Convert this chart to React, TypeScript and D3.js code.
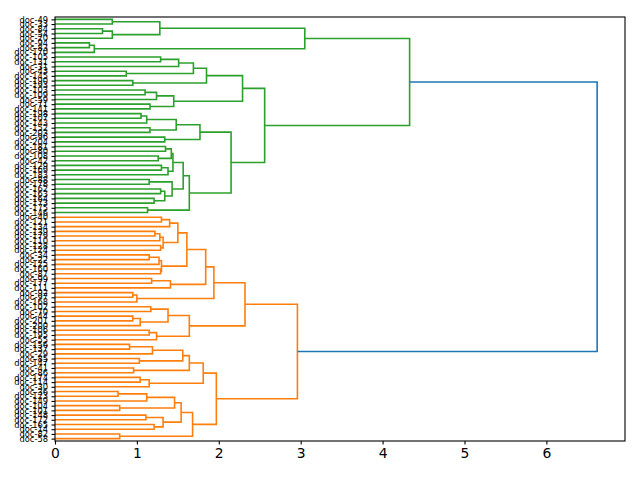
import * as d3 from "d3";
import { useEffect, useRef } from "react";

// leaf names, top to bottom as they appear on the chart
const greenLeaves = [
  "doc-49", "doc-33", "doc-84", "doc-54", "doc-20", "doc-94", "doc-83", "doc-170", "doc-105", "doc-131",
  "doc-31", "doc-43", "doc-145", "doc-190", "doc-193", "doc-103", "doc-109", "doc-59", "doc-71", "doc-141",
  "doc-198", "doc-107", "doc-143", "doc-152", "doc-203", "doc-96", "doc-204", "doc-181", "doc-80", "doc-108",
  "doc-42", "doc-129", "doc-169", "doc-183", "doc-88", "doc-178", "doc-162", "doc-163", "doc-164", "doc-173",
  "doc-175", "doc-146",
];
const orangeLeaves = [
  "doc-40", "doc-121", "doc-134", "doc-139", "doc-179", "doc-110", "doc-128", "doc-124", "doc-34", "doc-22",
  "doc-125", "doc-160", "doc-87", "doc-99", "doc-177", "doc-111", "doc-92", "doc-97", "doc-168", "doc-102",
  "doc-70", "doc-44", "doc-201", "doc-200", "doc-106", "doc-195", "doc-55", "doc-156", "doc-137", "doc-29",
  "doc-85", "doc-147", "doc-41", "doc-86", "doc-174", "doc-114", "doc-30", "doc-36", "doc-123", "doc-149",
  "doc-104", "doc-101", "doc-148", "doc-172", "doc-165", "doc-14", "doc-82", "doc-58",
];
const leafLabels = [...greenLeaves, ...orangeLeaves];
const heightTicks = [0, 1, 2, 3, 4, 5, 6];

// merges: [distance, left, right]; a number is a leaf index in leafLabels
type Node = number | [number, Node, Node];

const greenTop: Node = [3.05, [1.28, [0.70, 0, 1], [0.70, [0.58, 2, 3], 4]], [0.48, [0.42, 5, 6], 7]];
const greenG: Node = [1.85, [1.69, [1.51, [1.29, 8, 9], 10], [0.87, 11, 12]], [0.95, 13, 14]];
const greenH: Node = [1.45, [1.24, [1.10, 15, 16], 17], [1.16, 18, 19]];
const greenJK: Node = [1.77, [1.48, [1.12, [1.05, 20, 21], 22], [1.16, 23, 24]], [1.34, 25, 26]];
const greenA1: Node = [1.565,
  [1.44, [1.42, [1.35, 27, 28], [1.26, 29, 30]], [1.38, [1.30, 31, 32], 33]],
  [1.43, [1.15, 34, 35], [1.34, [1.29, 36, 37], [1.21, 38, 39]]]];
const greenA2: Node = [1.13, 40, 41];
const greenMid: Node = [2.56, [2.29, greenG, greenH], [2.15, greenJK, [1.64, greenA1, greenA2]]];
const greenTree: Node = [4.33, greenTop, greenMid];

const orangeT: Node = [1.61,
  [1.50, [1.40, [1.30, 42, 43], 44], [1.32, [1.28, [1.22, 45, 46], 47], [1.29, 48, 49]]],
  [1.30, [1.27, [1.15, 50, 51], 52], [1.29, 53, 54]]];
const orangeX: Node = [1.94, [1.84, orangeT, [1.41, [1.18, 55, 56], 57]], [1.00, [0.95, 58, 59], 60]];
const orangeY: Node = [1.64,
  [1.38, [1.17, 61, 62], [1.04, [0.95, 63, 64], 65]],
  [1.24, [1.15, 66, 67], 68]];
const orangeLA: Node = [1.81,
  [1.64, [1.56, [1.19, [0.91, 69, 70], 71], [1.03, 72, 73]], [0.96, 74, 75]],
  [1.15, [1.04, 76, 77], 78]];
const orangeLB: Node = [1.68,
  [1.54,
    [1.46, [1.12, [0.77, 79, 80], 81], [0.79, 82, 83]],
    [1.32, [1.11, 84, 85], [1.21, 86, 87]]],
  [0.79, 88, 89]];
const orangeTree: Node = [2.96, [2.32, orangeX, orangeY], [1.97, orangeLA, orangeLB]];

const rootHeight = 6.62;

const colors = { green: "#2ca02c", orange: "#ff7f0e", above: "#1f77b4" };

export default function App() {
  const ref = useRef<SVGSVGElement>(null);

  useEffect(() => {
    const svg = d3.select(ref.current);
    svg.selectAll("*").remove();

    const left = 55, right = 625, top = 17, bottom = 441;

    const x = d3.scaleLinear().domain([0, 6.96]).range([left, right]);
    const y = d3.scaleLinear().domain([0, leafLabels.length]).range([top, bottom]);

    const links: { a: any; b: any; h: number; color: string }[] = [];
    function walk(node: Node, color: string): { y: number; h: number } {
      if (typeof node === "number") return { y: y(node + 0.5), h: 0 };
      const [h, na, nb] = node;
      const a = walk(na, color);
      const b = walk(nb, color);
      links.push({ a, b, h, color });
      return { y: (a.y + b.y) / 2, h };
    }
    const g = walk(greenTree, colors.green);
    const o = walk(orangeTree, colors.orange);
    links.push({ a: g, b: o, h: rootHeight, color: colors.above });

    svg.append("g")
      .selectAll("path")
      .data(links)
      .enter()
      .append("path")
      .attr("d", d => `M${x(d.a.h)},${d.a.y}H${x(d.h)}V${d.b.y}H${x(d.b.h)}`)
      .attr("fill", "none")
      .attr("stroke", d => d.color)
      .attr("stroke-width", 1.6);

    // frame
    svg.append("rect")
      .attr("x", left).attr("y", top)
      .attr("width", right - left).attr("height", bottom - top)
      .attr("fill", "none").attr("stroke", "black").attr("stroke-width", 1.1);

    const xAxis = svg.append("g")
      .attr("transform", `translate(0,${bottom})`)
      .call(d3.axisBottom(x).tickValues(heightTicks).tickFormat(d3.format("d")).tickSize(3.5).tickPadding(3.5));
    xAxis.select(".domain").remove();
    xAxis.selectAll("line").attr("stroke-width", 1.1);
    xAxis.selectAll("text").attr("font-size", 13.9).attr("font-family", "DejaVu Sans").attr("fill", "black");

    const yAxis = svg.append("g")
      .attr("transform", `translate(${left},0)`)
      .call(d3.axisLeft(y)
        .tickValues(leafLabels.map((_, i) => i + 0.5))
        .tickFormat((_, i) => leafLabels[i])
        .tickSize(3.5).tickPadding(3.5));
    yAxis.select(".domain").remove();
    yAxis.selectAll("line").attr("stroke-width", 1.1);
    yAxis.selectAll("text").attr("font-size", 8.3).attr("font-family", "DejaVu Sans").attr("fill", "black");
  }, []);

  return (
    <svg ref={ref} width={640} height={480}
      style={{ position: "absolute", left: 0, top: 0, background: "white" }} />
  );
}
